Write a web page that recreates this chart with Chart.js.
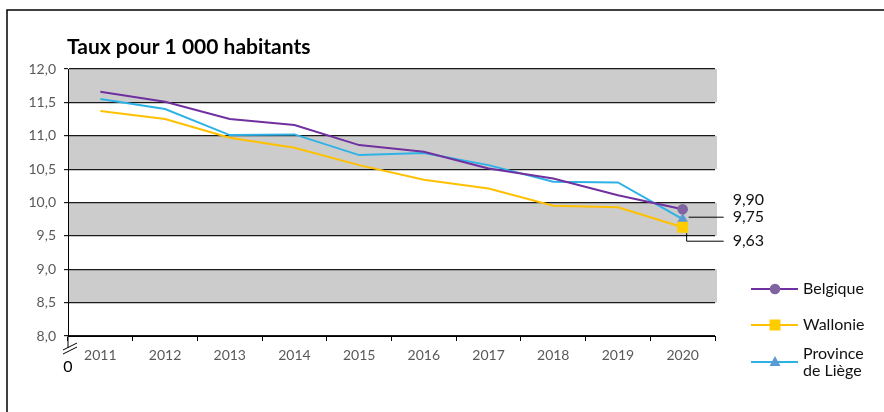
<!DOCTYPE html>
<html>
<head>
  <title>Taux pour 1 000 habitants</title>
  <script src="https://cdn.jsdelivr.net/npm/chart.js@4"></script>
  <style>
    html, body { margin: 0; padding: 0; background: #fff; }
    canvas { display: block; }
  </style>
</head>
<body>
  <canvas id="taux" width="884" height="412"></canvas>

  <script>
    const years = ['2011', '2012', '2013', '2014', '2015', '2016', '2017', '2018', '2019', '2020'];
    const belgique = [11.66, 11.51, 11.25, 11.16, 10.86, 10.76, 10.51, 10.36, 10.11, 9.90];
    const wallonie = [11.37, 11.25, 10.97, 10.82, 10.56, 10.34, 10.21, 9.95, 9.93, 9.63];
    const liege = [11.55, 11.40, 11.01, 11.02, 10.71, 10.74, 10.56, 10.31, 10.30, 9.75];
    const seriesNames = ['Belgique', 'Wallonie', ['Province', 'de Liège']];
    const yTicks = [8.0, 8.5, 9.0, 9.5, 10.0, 10.5, 11.0, 11.5, 12.0];
    const grayBands = [[11.5, 12.0], [10.5, 11.0], [9.5, 10.0], [8.5, 9.0]];

    const FONT = 'Lato, "Open Sans", sans-serif';
    const fmt = (v, d) => v.toFixed(d).replace('.', ',');
    const lastOnly = (r) => years.map((y, i) => i === years.length - 1 ? r : 0);

    const colors = {
      belgique: { line: '#7030A0', mark: '#8064A2' },
      wallonie: { line: '#FFC000', mark: '#FFCC00' },
      liege: { line: '#2EB2E6', mark: '#5B9BD5' }
    };

    function drawMarker(ctx, style, x, y, color) {
      ctx.fillStyle = color;
      ctx.beginPath();
      if (style === 'circle') {
        ctx.arc(x, y, 5.3, 0, Math.PI * 2);
      } else if (style === 'rect') {
        ctx.rect(x - 5.5, y - 5.5, 11, 11);
      } else {
        ctx.moveTo(x, y - 6);
        ctx.lineTo(x + 5.5, y + 4);
        ctx.lineTo(x - 5.5, y + 4);
        ctx.closePath();
      }
      ctx.fill();
    }

    const decor = {
      id: 'decor',
      beforeDraw(chart) {
        const { ctx, chartArea: a, scales: { y } } = chart;
        ctx.save();
        ctx.fillStyle = '#CCCCCC';
        grayBands.forEach(([lo, hi]) => {
          const top = y.getPixelForValue(hi), bot = y.getPixelForValue(lo);
          ctx.fillRect(a.left, top, a.right - a.left + 2, bot - top);
        });
        ctx.restore();
      },
      afterDraw(chart) {
        const { ctx, chartArea: a, scales: { x, y } } = chart;
        ctx.save();

        // outer frame
        ctx.strokeStyle = '#000';
        ctx.lineWidth = 1.5;
        ctx.strokeRect(7, 10, 1000, 1000);

        // title
        ctx.fillStyle = '#000';
        ctx.font = 'bold 21px ' + FONT;
        ctx.textBaseline = 'alphabetic';
        ctx.textAlign = 'left';
        ctx.fillText('Taux pour 1 000 habitants', 67, 54);

        // axis break and zero
        ctx.lineWidth = 1;
        ctx.beginPath();
        ctx.moveTo(a.left, a.bottom);
        ctx.lineTo(a.left, a.bottom + 12);
        ctx.moveTo(a.left - 5, a.bottom + 14);
        ctx.lineTo(a.left + 9, a.bottom + 7);
        ctx.moveTo(a.left - 5, a.bottom + 18);
        ctx.lineTo(a.left + 9, a.bottom + 11);
        ctx.stroke();
        ctx.font = '16px ' + FONT;
        ctx.textAlign = 'center';
        ctx.textBaseline = 'middle';
        ctx.fillText('0', a.left, a.bottom + 31);

        // end labels with leader lines
        const last = years.length - 1;
        const px = x.getPixelForValue(last);
        const yb = y.getPixelForValue(belgique[last]);
        const yl = y.getPixelForValue(liege[last]);
        const yw = y.getPixelForValue(wallonie[last]);
        ctx.strokeStyle = '#000';
        ctx.lineWidth = 1;
        ctx.beginPath();
        ctx.moveTo(px + 6, yl - 2);
        ctx.lineTo(px + 41, yl - 2);
        ctx.moveTo(px + 4, yw + 6);
        ctx.lineTo(px + 4, yw + 14);
        ctx.lineTo(px + 41, yw + 14);
        ctx.stroke();
        ctx.font = '16px ' + FONT;
        ctx.textAlign = 'left';
        ctx.fillStyle = '#111';
        ctx.fillText(fmt(belgique[last], 2), px + 50, yb - 9);
        ctx.fillText(fmt(liege[last], 2), px + 50, yl - 2);
        ctx.fillText(fmt(wallonie[last], 2), px + 50, yw + 14);

        // legend
        const items = [
          { name: seriesNames[0], c: colors.belgique, s: 'circle', ly: 289 },
          { name: seriesNames[1], c: colors.wallonie, s: 'rect', ly: 325 },
          { name: seriesNames[2], c: colors.liege, s: 'triangle', ly: 362 }
        ];
        ctx.font = '16px ' + FONT;
        items.forEach(it => {
          ctx.strokeStyle = it.c.line;
          ctx.lineWidth = 2;
          ctx.beginPath();
          ctx.moveTo(751, it.ly);
          ctx.lineTo(798, it.ly);
          ctx.stroke();
          drawMarker(ctx, it.s, 775, it.ly, it.c.mark);
          ctx.fillStyle = '#111';
          if (Array.isArray(it.name)) {
            ctx.fillText(it.name[0], 803, it.ly - 8);
            ctx.fillText(it.name[1], 803, it.ly + 9);
          } else {
            ctx.fillText(it.name, 803, it.ly);
          }
        });
        ctx.restore();
      }
    };

    new Chart(document.getElementById('taux').getContext('2d'), {
      type: 'line',
      data: {
        labels: years,
        datasets: [{
          label: 'Belgique',
          data: belgique,
          borderColor: colors.belgique.line,
          backgroundColor: colors.belgique.mark,
          pointBackgroundColor: colors.belgique.mark,
          pointBorderWidth: 0,
          pointStyle: 'circle',
          pointRadius: lastOnly(5.3),
          borderWidth: 2
        }, {
          label: 'Wallonie',
          data: wallonie,
          borderColor: colors.wallonie.line,
          backgroundColor: colors.wallonie.mark,
          pointBackgroundColor: colors.wallonie.mark,
          pointBorderWidth: 0,
          pointStyle: 'rect',
          pointRadius: lastOnly(7.8),
          borderWidth: 2
        }, {
          label: 'Province de Liège',
          data: liege,
          borderColor: colors.liege.line,
          backgroundColor: colors.liege.mark,
          pointBackgroundColor: colors.liege.mark,
          pointBorderWidth: 0,
          pointStyle: 'triangle',
          pointRadius: lastOnly(6.3),
          borderWidth: 2
        }]
      },
      options: {
        responsive: false,
        animation: false,
        layout: { padding: { top: 69, right: 169, left: 0, bottom: 0 } },
        plugins: {
          legend: { display: false },
          tooltip: { enabled: false }
        },
        elements: { line: { tension: 0 } },
        scales: {
          x: {
            offset: true,
            afterFit: s => { s.height = 76; },
            grid: { offset: true, drawOnChartArea: false, color: '#000', tickLength: 5 },
            border: { color: '#000', width: 1 },
            ticks: { color: '#595959', font: { family: FONT, size: 14 }, padding: 6, maxRotation: 0 }
          },
          y: {
            min: 8,
            max: 12,
            afterFit: s => { s.width = 68; },
            afterBuildTicks: s => { s.ticks = yTicks.map(v => ({ value: v })); },
            grid: { color: '#1a1a1a', lineWidth: 1.2, tickLength: 4 },
            border: { color: '#000', width: 1 },
            ticks: {
              color: '#595959',
              font: { family: FONT, size: 14 },
              padding: 8,
              callback: v => fmt(v, 1)
            }
          }
        }
      },
      plugins: [decor]
    });
  </script>
</body>
</html>
